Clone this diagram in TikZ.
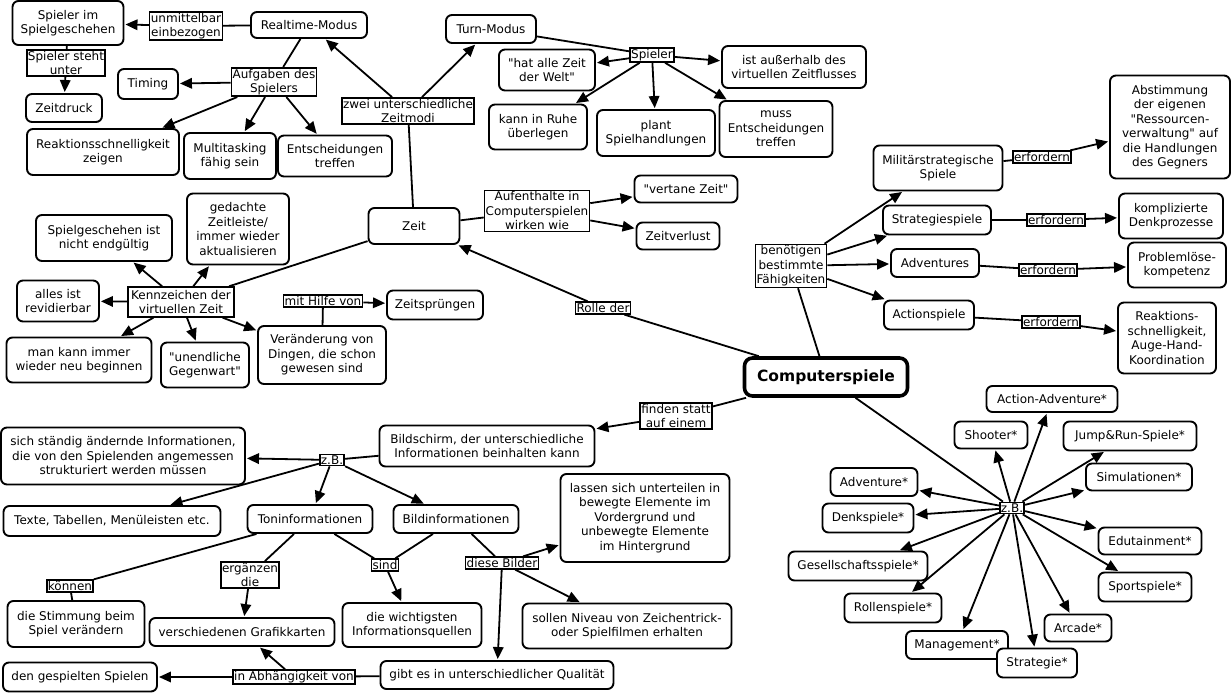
\documentclass[tikz,border=0pt]{standalone}
\usepackage{fontspec}
\setmainfont{DejaVu Sans}[Ligatures=TeXOff]
\usetikzlibrary{arrows.meta}
\newcommand\mapfont{\fontsize{12}{14.5}\selectfont}
\begin{document}
\begin{tikzpicture}[x=1pt,y=-1pt,
  c/.style={draw, rounded corners=6pt, line width=1.9pt, fill=white, align=center, inner sep=1pt, font=\mapfont},
  lab/.style={draw, line width=1.6pt, fill=white, align=center, inner sep=1.2pt, font=\mapfont},
  sz/.style 2 args={minimum width=#1pt, minimum height=#2pt},
  ar/.style={line width=1.8pt, -{Triangle[length=12pt,width=10.5pt]}, shorten >=1pt},
  ln/.style={line width=1.8pt}]
\fill[white] (0,0) rectangle (1232,695);
\useasboundingbox (0,0) rectangle (1232,695);

% concept nodes
\node[c,sz={111}{44}] (sig) at (68,23) {Spieler im\\Spielgeschehen};
\node[c,sz={116}{26}] (rt) at (309,25) {Realtime-Modus};
\node[c,sz={76}{28}] (zd) at (64,108) {Zeitdruck};
\node[c,sz={60}{30}] (tim) at (148,84) {Timing};
\node[c,sz={152}{46}] (rsz) at (103,152) {Reaktionsschnelligkeit\\zeigen};
\node[c,sz={92}{46}] (mt) at (230,156) {Multitasking\\fähig sein};
\node[c,sz={114}{41}] (et) at (335,156) {Entscheidungen\\treffen};
\node[c,sz={90}{28}] (tm) at (491,29) {Turn-Modus};
\node[c,sz={96}{41}] (hat) at (547,70) {"hat alle Zeit\\der Welt"};
\node[c,sz={144}{42}] (aus) at (794,67) {ist außerhalb des\\virtuellen Zeitflusses};
\node[c,sz={98}{45}] (kir) at (538,127) {kann in Ruhe\\überlegen};
\node[c,sz={118}{46}] (plant) at (656,133) {plant\\Spielhandlungen};
\node[c,sz={113}{56}] (muss) at (776,129) {muss\\Entscheidungen\\treffen};
\node[c,sz={120}{103}] (abst) at (1170,127) {Abstimmung\\der eigenen\\"Ressourcen-\\verwaltung" auf\\die Handlungen\\des Gegners};
\node[c,sz={129}{45}] (mil) at (938,168) {Militärstrategische\\Spiele};
\node[c,sz={108}{29}] (strat) at (937,220) {Strategiespiele};
\node[c,sz={104}{45}] (kompl) at (1171,216) {komplizierte\\Denkprozesse};
\node[c,sz={88}{28}] (adv) at (935,263) {Adventures};
\node[c,sz={98}{45}] (prob) at (1177,265) {Problemlöse-\\kompetenz};
\node[c,sz={90}{29}] (act) at (929,315) {Actionspiele};
\node[c,sz={98}{71}] (reak) at (1167,338) {Reaktions-\\schnelligkeit,\\Auge-Hand-\\Koordination};
\node[c,sz={163}{38},line width=3.6pt,rounded corners=8pt,font=\fontsize{15.5}{18}\selectfont\bfseries] (cs) at (826,377) {Computerspiele};
\node[c,sz={91}{36}] (zeit) at (414,226) {Zeit};
\node[c,sz={103}{27}] (vz) at (686,189) {"vertane Zeit"};
\node[c,sz={83}{27}] (zv) at (678,236) {Zeitverlust};
\node[c,sz={136}{46}] (sgn) at (104,238) {Spielgeschehen ist\\nicht endgültig};
\node[c,sz={102}{71}] (ged) at (238,229) {gedachte\\Zeitleiste/\\immer wieder\\aktualisieren};
\node[c,sz={82}{41}] (air) at (58,301) {alles ist\\revidierbar};
\node[c,sz={96}{29}] (zsp) at (435,305) {Zeitsprüngen};
\node[c,sz={145}{45}] (mk) at (79,360) {man kann immer\\wieder neu beginnen};
\node[c,sz={88}{45}] (ug) at (205,365) {"unendliche\\Gegenwart"};
\node[c,sz={128}{58}] (ver) at (322,355) {Veränderung von\\Dingen, die schon\\gewesen sind};
\node[c,sz={215}{41}] (bs) at (487,446) {Bildschirm, der unterschiedliche\\Informationen beinhalten kann};
\node[c,sz={244}{57}] (sci) at (123,456) {sich ständig ändernde Informationen,\\die von den Spielenden angemessen\\strukturiert werden müssen};
\node[c,sz={217}{30}] (ttm) at (112,521) {Texte, Tabellen, Menüleisten etc.};
\node[c,sz={125}{28}] (ton) at (310,519) {Toninformationen};
\node[c,sz={125}{28}] (bild) at (456,519) {Bildinformationen};
\node[c,sz={169}{88}] (lass) at (645,518) {lassen sich unterteilen in\\bewegte Elemente im\\Vordergrund und\\unbewegte Elemente\\im Hintergrund};
\node[c,sz={137}{46}] (stim) at (76,624) {die Stimmung beim\\Spiel verändern};
\node[c,sz={185}{28}] (gk) at (242,632) {verschiedenen Grafikkarten};
\node[c,sz={139}{44}] (wic) at (412,625) {die wichtigsten\\Informationsquellen};
\node[c,sz={209}{45}] (soll) at (627,626) {sollen Niveau von Zeichentrick-\\oder Spielfilmen erhalten};
\node[c,sz={154}{29}] (dgs) at (80,677) {den gespielten Spielen};
\node[c,sz={233}{28}] (gib) at (497,675) {gibt es in unterschiedlicher Qualität};
\node[c,sz={131}{26}] (aa) at (1052,399) {Action-Adventure*};
\node[c,sz={73}{27}] (sh) at (991,435) {Shooter*};
\node[c,sz={133}{29}] (jr) at (1130,436) {Jump\&Run-Spiele*};
\node[c,sz={87}{28}] (ad) at (874,482) {Adventure*};
\node[c,sz={106}{27}] (sim) at (1139,477) {Simulationen*};
\node[c,sz={91}{29}] (dk) at (868,518) {Denkspiele*};
\node[c,sz={103}{27}] (edu) at (1150,541) {Edutainment*};
\node[c,sz={139}{29}] (ges) at (858,566) {Gesellschaftsspiele*};
\node[c,sz={93}{29}] (spo) at (1145,587) {Sportspiele*};
\node[c,sz={97}{29}] (rol) at (893,608) {Rollenspiele*};
\node[c,sz={67}{27}] (arc) at (1078,628) {Arcade*};
\node[c,sz={102}{28}] (man) at (957,645) {Management*};
\node[c,sz={80}{29}] (str) at (1037,663) {Strategie*};

% linking labels
\node[lab] (lue) at (186,26) {unmittelbar\\einbezogen};
\node[lab] (lssu) at (66,63) {Spieler steht\\unter};
\node[lab] (lauf) at (274,82) {Aufgaben des\\Spielers};
\node[lab] (lzwei) at (408,111) {zwei unterschiedliche\\Zeitmodi};
\node[lab] (lsp) at (652,55) {Spieler};
\node[lab] (lafh) at (537,211) {Aufenthalte in\\Computerspielen\\wirken wie};
\node[lab] (lrd) at (603,308) {Rolle der};
\node[lab,inner sep=3pt] (lkz) at (181,302) {Kennzeichen der\\virtuellen Zeit};
\node[lab] (lmhv) at (323,301) {mit Hilfe von};
\node[lab] (lben) at (791,266) {benötigen\\bestimmte\\Fähigkeiten};
\node[lab] (le1) at (1042,157) {erfordern};
\node[lab] (le2) at (1056,220) {erfordern};
\node[lab] (le3) at (1048,270) {erfordern};
\node[lab] (le4) at (1051,322) {erfordern};
\node[lab] (lfs) at (676,416) {finden statt\\auf einem};
\node[lab] (lzb) at (332,460) {z.B.};
\node[lab] (lkon) at (70,586) {können};
\node[lab] (lerg) at (250,575) {ergänzen\\die};
\node[lab] (lsind) at (385,565) {sind};
\node[lab] (ldb) at (502,563) {diese Bilder};
\node[lab] (liav) at (294,677) {in Abhängigkeit von};
\node[lab] (lzb2) at (1012,508) {z.B.};

% connectors
\draw[ln] (rt) -- (lue); \draw[ar] (lue) -- (sig);
\draw[ln] (sig) -- (lssu); \draw[ar] (lssu) -- (zd);
\draw[ln] (rt) -- (lauf);
\foreach \t in {tim,rsz,mt,et} \draw[ar] (lauf) -- (\t);
\draw[ln] (zeit) -- (lzwei);
\draw[ar] (lzwei) -- (rt); \draw[ar] (lzwei) -- (tm);
\draw[ln] (tm) -- (lsp);
\foreach \t in {hat,aus,kir,plant,muss} \draw[ar] (lsp) -- (\t);
\draw[ln] (zeit) -- (lafh);
\draw[ar] (lafh) -- (vz); \draw[ar] (lafh) -- (zv);
\draw[ln] (cs) -- (lrd); \draw[ar] (lrd) -- (zeit);
\draw[ln] (zeit) -- (lkz);
\foreach \t in {sgn,ged,air,mk,ug,ver} \draw[ar] (lkz) -- (\t);
\draw[ln] (ver) -- (lmhv); \draw[ar] (lmhv) -- (zsp);
\draw[ln] (cs) -- (lben);
\foreach \t in {mil,strat,adv,act} \draw[ar] (lben) -- (\t);
\draw[ln] (mil) -- (le1); \draw[ar] (le1) -- (abst);
\draw[ln] (strat) -- (le2); \draw[ar] (le2) -- (kompl);
\draw[ln] (adv) -- (le3); \draw[ar] (le3) -- (prob);
\draw[ln] (act) -- (le4); \draw[ar] (le4) -- (reak);
\draw[ln] (cs) -- (lfs); \draw[ar] (lfs) -- (bs);
\draw[ln] (bs) -- (lzb);
\foreach \t in {sci,ttm,ton,bild} \draw[ar] (lzb) -- (\t);
\draw[ln] (ton) -- (lkon); \draw[ln] (lkon) -- (stim);
\draw[ln] (ton) -- (lerg); \draw[ar] (lerg) -- (gk);
\draw[ln] (ton) -- (lsind); \draw[ln] (bild) -- (lsind); \draw[ar] (lsind) -- (wic);
\draw[ln] (bild) -- (ldb);
\foreach \t in {lass,soll,gib} \draw[ar] (ldb) -- (\t);
\draw[ln] (gib) -- (liav); \draw[ar] (liav) -- (dgs); \draw[ar] (liav) -- (gk);
\draw[ln] (cs) -- (lzb2);
\foreach \t in {aa,sh,jr,ad,sim,dk,edu,ges,spo,rol,arc,man,str} \draw[ar] (lzb2) -- (\t);
\end{tikzpicture}
\end{document}
